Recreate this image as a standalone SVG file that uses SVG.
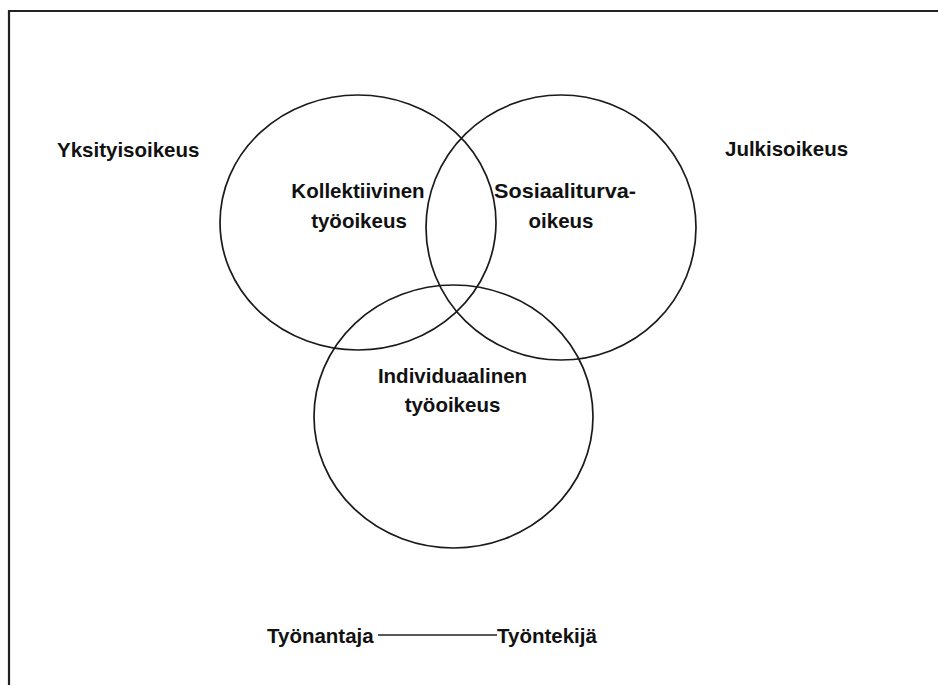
<svg xmlns="http://www.w3.org/2000/svg" width="938" height="685" viewBox="0 0 938 685">
<style>
.c{fill:none;stroke:#1a1a1a;stroke-width:1.7}
.t{font-family:"Liberation Sans",Arial,sans-serif;font-weight:bold;font-size:20.5px;fill:#111}
.m{text-anchor:middle}
.l{stroke:#222;stroke-width:1.6}
</style>
<rect x="0" y="0" width="938" height="685" fill="#fff"/>
<path d="M9,690 L9,11 L945,11" fill="none" stroke="#222" stroke-width="2.2"/>
<g id="yksityisoikeus"><text class="t" x="57" y="157">Yksityisoikeus</text></g>
<g id="julkisoikeus"><text class="t" x="725" y="156">Julkisoikeus</text></g>
<g id="kollektiivinen">
<ellipse class="c" cx="358" cy="222.5" rx="138" ry="127.5"/>
<text class="t m" x="358" y="198">Kollektiivinen</text>
<text class="t m" x="359" y="228">työoikeus</text>
</g>
<g id="sosiaaliturva">
<ellipse class="c" cx="561" cy="227.5" rx="135" ry="132.5"/>
<text class="t m" x="565" y="198" textLength="142" lengthAdjust="spacingAndGlyphs">Sosiaaliturva-</text>
<text class="t m" x="561" y="228">oikeus</text>
</g>
<g id="individuaalinen">
<ellipse class="c" cx="453.5" cy="416.5" rx="139.5" ry="131.5"/>
<text class="t m" x="452.5" y="383">Individuaalinen</text>
<text class="t m" x="452.5" y="412">työoikeus</text>
</g>
<g id="tyonantaja"><text class="t" x="267" y="643">Työnantaja</text></g>
<g id="tyontekija"><text class="t" x="497" y="643">Työntekijä</text></g>
<g id="connectors"><line class="l" x1="378" y1="635" x2="497" y2="635"/></g>
</svg>
